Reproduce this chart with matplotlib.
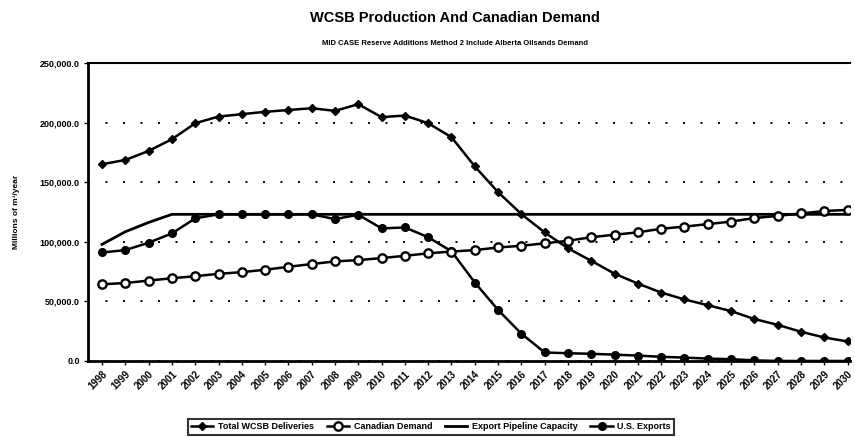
import matplotlib
matplotlib.use("Agg")
import matplotlib.pyplot as plt
from matplotlib.ticker import FuncFormatter, MultipleLocator

plt.rcParams['font.family'] = ['Liberation Sans', 'DejaVu Sans']

years = list(range(1998, 2031))

total_wcsb = [165000, 168600, 176200, 186000, 199400, 205000, 207000, 209000,
              210500, 212000, 209800, 215400, 204500, 205900, 199400, 187700,
              163200, 141600, 123200, 107800, 94500, 84000, 73200, 64900,
              57400, 51600, 46800, 41800, 35200, 30300, 24500, 19700, 16400]

canadian_demand = [64300, 65400, 67400, 69400, 71100, 73100, 74500, 76500,
                   79000, 81300, 83500, 84600, 86300, 88200, 90300, 91800,
                   93000, 95200, 96600, 98700, 100800, 103800, 105900, 107900,
                   110900, 112700, 114800, 116900, 119900, 121700, 123700,
                   125800, 126700]

pipeline_capacity = [97800, 108400, 116200, 123000] + [123000] * 29

us_exports = [91000, 93000, 99200, 107000, 119600, 123000, 123000, 123000,
              123000, 123000, 119000, 122700, 111200, 112000, 103800, 92000,
              65800, 42800, 22900, 7100, 6500, 6000, 5300, 4500, 3500, 2800,
              2000, 1500, 500, 0, 0, 0, 0]

fig = plt.figure(figsize=(8.55, 4.37), dpi=100)
ax = fig.add_axes([0.103, 0.174, 0.891, 0.682])

x = list(range(len(years)))
ax.plot(x, total_wcsb, color='black', lw=1.8, marker='D', ms=4.5,
        mfc='black', mec='black', label='Total WCSB Deliveries', zorder=4)
ax.plot(x, canadian_demand, color='black', lw=1.8, marker='o', ms=6,
        mfc='white', mec='black', mew=1.7, label='Canadian Demand', zorder=5)
ax.plot(x, pipeline_capacity, color='black', lw=2.0,
        label='Export Pipeline Capacity', zorder=3)
ax.plot(x, us_exports, color='black', lw=1.8, marker='o', ms=5.5,
        mfc='black', mec='black', label='U.S. Exports', zorder=4)

ax.set_xlim(-0.6, 32.1)
ax.set_ylim(0, 250000)
ax.yaxis.set_major_locator(MultipleLocator(50000))
ax.yaxis.set_major_formatter(FuncFormatter(lambda v, p: f"{v:,.1f}"))
ax.set_xticks(x)
ax.set_xticklabels([str(y) for y in years], rotation=45, ha='right',
                   rotation_mode='anchor', fontsize=7, fontweight='bold')
for lab in ax.get_yticklabels():
    lab.set_fontsize(6.5)
    lab.set_fontweight('bold')

ax.grid(axis='y', color='black', linestyle=(0, (1, 8)), lw=1.4)
ax.set_axisbelow(True)

ax.spines['right'].set_visible(False)
ax.spines['left'].set_linewidth(2.0)
ax.spines['bottom'].set_linewidth(2.0)
ax.spines['top'].set_linewidth(1.5)
ax.tick_params(axis='both', length=3, width=1, direction='out', pad=3)

ax.set_ylabel('Millions of m³/year', fontsize=6, fontweight='bold', labelpad=14)

fig.text(0.532, 0.958, 'WCSB Production And Canadian Demand', ha='center',
         va='center', fontsize=10.5, fontweight='bold')
fig.text(0.532, 0.90, 'MID CASE Reserve Additions Method 2 Include Alberta Oilsands Demand',
         ha='center', va='center', fontsize=5.5, fontweight='bold')

leg = fig.legend(loc='center', bbox_to_anchor=(0.504, 0.023), ncol=4,
                 frameon=True, fancybox=False, handlelength=2.5,
                 columnspacing=1.4, handletextpad=0.5, borderpad=0.35,
                 prop={'weight': 'bold', 'size': 6.5})
leg.get_frame().set_edgecolor('black')
leg.get_frame().set_linewidth(1.5)

fig.savefig('out.png', dpi=100)
